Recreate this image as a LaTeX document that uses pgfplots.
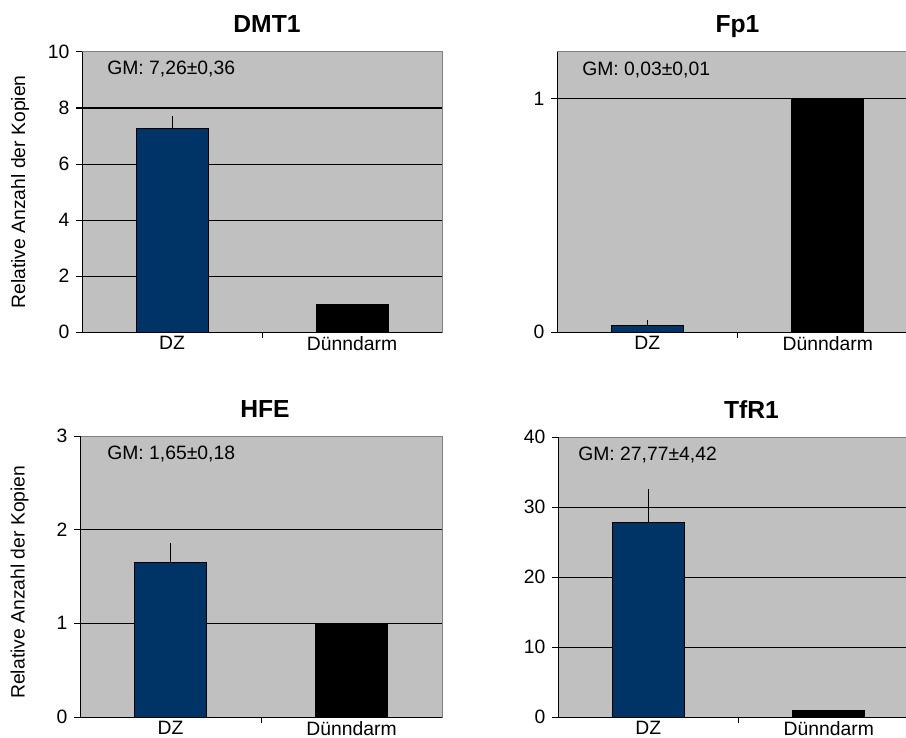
\documentclass[border=0pt]{standalone}
\usepackage{fontspec}
\setmainfont{Liberation Sans}
\usepackage{pgfplots}
\pgfplotsset{compat=1.18}
\definecolor{bggray}{RGB}{192,192,192}
\definecolor{navy}{RGB}{0,51,102}
\definecolor{framegray}{RGB}{128,128,128}
\newlength{\px}\setlength{\px}{0.75pt}
\pgfplotsset{
  panel/.style={
    scale only axis, anchor=north west,
    xmin=-0.5, xmax=1.5, ymin=0,
    xtick={0.5}, xticklabels={},
    extra x ticks={0,1}, extra x tick labels={DZ,Dünndarm},
    extra x tick style={major tick length=0pt, xticklabel style={yshift=-2.5\px, inner sep=1pt}},
    axis background/.style={fill=bggray, draw=framegray, line width=1\px},
    axis x line*=bottom, axis y line*=left,
    axis line style={black, line width=1\px, -},
    ymajorgrids, major grid style={black, line width=1\px},
    tick align=outside, major tick length=6\px,
    tick style={black, line width=1\px},
    ticklabel style={font=\fontsize{14.5}{17}\selectfont, black},
    yticklabel style={xshift=-2\px},
    /pgf/number format/assume math mode=true,
    every axis title/.style={font=\fontsize{18.5}{22}\selectfont\bfseries, at={(0.5,1)}, anchor=base, yshift=19\px},
  },
  dzbar/.style={ybar, bar shift=0pt, bar width=0.4, fill=navy, draw=black, line width=1\px,
    error bars/.cd, y dir=plus, y explicit,
    error bar style={black, line width=1\px},
    error mark options={black, line width=1\px, mark size=2.5\px}},
  dubar/.style={ybar, bar shift=0pt, bar width=0.4, fill=black, draw=black, line width=1\px},
}
\newcommand{\gmfont}{\fontsize{14.5}{17}\selectfont}
\begin{document}
\begin{tikzpicture}
\useasboundingbox (0pt,0pt) rectangle (679.5pt,-553.5pt);
\clip (0pt,0pt) rectangle (679.5pt,-553.5pt);
% DMT1
\begin{axis}[panel, at={(82\px,-52\px)}, width=360\px, height=280\px,
  ymax=10, ytick={0,2,4,6,8}, extra y ticks={10}, extra y tick style={grid=none},
  title={DMT1}, title style={xshift=5\px},
  ylabel={Relative Anzahl der Kopien},
  every axis y label/.style={at={(rel axis cs:-0.172,0.5)}, anchor=center, rotate=90, font=\gmfont}]
\addplot[dzbar] coordinates {(0,7.26) +- (0,0.36)};
\addplot[dubar] coordinates {(1,1)};
\node[anchor=west, inner sep=0pt, xshift=25\px, yshift=-17\px, font=\gmfont] at (rel axis cs:0,1) {GM: 7,26±0,36};
\end{axis}
% Fp1
\begin{axis}[panel, at={(557\px,-52\px)}, width=361\px, height=280\px,
  ymax=1.2, ytick={0,1},
  title={Fp1}]
\addplot[dzbar] coordinates {(0,0.03) +- (0,0.01)};
\addplot[dubar] coordinates {(1,1)};
\node[anchor=west, inner sep=0pt, xshift=25\px, yshift=-18\px, font=\gmfont] at (rel axis cs:0,1) {GM: 0,03±0,01};
\end{axis}
% HFE
\begin{axis}[panel, at={(80\px,-436\px)}, width=362\px, height=281\px,
  ymax=3, ytick={0,1,2}, extra y ticks={3}, extra y tick style={grid=none},
  title={HFE}, title style={xshift=4\px},
  ylabel={Relative Anzahl der Kopien},
  every axis y label/.style={at={(rel axis cs:-0.167,0.48)}, anchor=center, rotate=90, font=\gmfont}]
\addplot[dzbar] coordinates {(0,1.65) +- (0,0.18)};
\addplot[dubar] coordinates {(1,1)};
\node[anchor=west, inner sep=0pt, xshift=27\px, yshift=-18\px, font=\gmfont] at (rel axis cs:0,1) {GM: 1,65±0,18};
\end{axis}
% TfR1
\begin{axis}[panel, at={(558\px,-437\px)}, width=361\px, height=280\px,
  ymax=40, ytick={0,10,20,30}, extra y ticks={40}, extra y tick style={grid=none},
  title={TfR1}, title style={xshift=13\px}]
\addplot[dzbar] coordinates {(0,27.77) +- (0,4.42)};
\addplot[dubar] coordinates {(1,1)};
\node[anchor=west, inner sep=0pt, xshift=20\px, yshift=-18\px, font=\gmfont] at (rel axis cs:0,1) {GM: 27,77±4,42};
\end{axis}
\end{tikzpicture}
\end{document}
